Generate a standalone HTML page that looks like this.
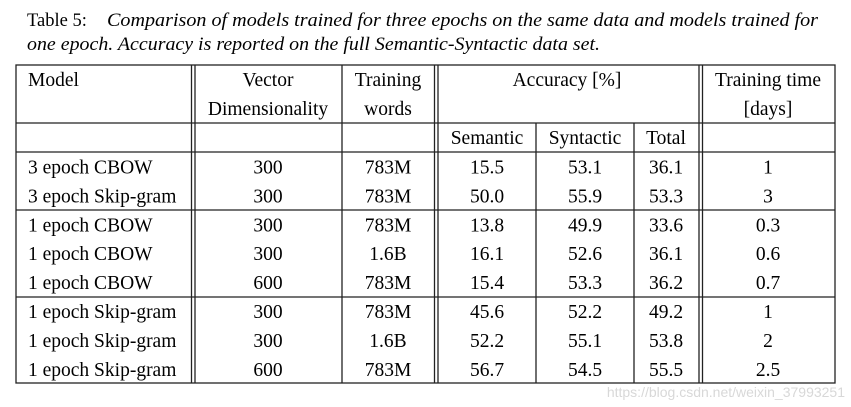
<!DOCTYPE html>
<html><head><meta charset="utf-8"><style>
html,body{margin:0;padding:0;background:#fff;}
svg{display:block;font-family:"Liberation Serif",serif;}
</style></head><body>
<svg width="851" height="407" viewBox="0 0 851 407">
<g font-size="18.5" fill="#000">
<text x="27" y="26">Table 5:</text>
<text x="107" y="26" font-style="italic" textLength="711" lengthAdjust="spacingAndGlyphs">Comparison of models trained for three epochs on the same data and models trained for</text>
<text x="27" y="50" font-style="italic" textLength="573" lengthAdjust="spacingAndGlyphs">one epoch. Accuracy is reported on the full Semantic-Syntactic data set.</text>
</g>
<g stroke="#222" stroke-width="1.3">
<rect x="16" y="65" width="819" height="318" fill="none"/>
<line x1="191.5" y1="65" x2="191.5" y2="383"/><line x1="195" y1="65" x2="195" y2="383"/>
<line x1="342" y1="65" x2="342" y2="383"/>
<line x1="434.5" y1="65" x2="434.5" y2="383"/><line x1="438" y1="65" x2="438" y2="383"/>
<line x1="536" y1="123" x2="536" y2="383"/>
<line x1="634" y1="123" x2="634" y2="383"/>
<line x1="699" y1="65" x2="699" y2="383"/><line x1="702.5" y1="65" x2="702.5" y2="383"/>
<line x1="16" y1="123" x2="835" y2="123"/>
<line x1="16" y1="152" x2="835" y2="152"/>
<line x1="16" y1="210" x2="835" y2="210"/>
<line x1="16" y1="297" x2="835" y2="297"/>
</g>
<g font-size="19.5" fill="#000" text-anchor="middle">
<text x="28" y="86" text-anchor="start">Model</text>
<text x="268" y="86">Vector</text><text x="268" y="115">Dimensionality</text>
<text x="388" y="86">Training</text><text x="388" y="115">words</text>
<text x="567" y="86">Accuracy [%]</text>
<text x="768" y="86">Training time</text><text x="768" y="115">[days]</text>
<text x="487" y="144">Semantic</text><text x="585" y="144">Syntactic</text><text x="666" y="144">Total</text>
</g>
<g id="body" font-size="19.5" fill="#000" text-anchor="middle"></g>
<text x="845" y="397" font-family="Liberation Sans, sans-serif" font-size="14" fill="#d8d8d8" text-anchor="end">https://blog.csdn.net/weixin_37993251</text>
</svg>
<script>
const models=["3 epoch CBOW","3 epoch Skip-gram","1 epoch CBOW","1 epoch CBOW","1 epoch CBOW","1 epoch Skip-gram","1 epoch Skip-gram","1 epoch Skip-gram"];
const dims=["300","300","300","300","600","300","300","600"];
const words=["783M","783M","783M","1.6B","783M","783M","1.6B","783M"];
const semantic=["15.5","50.0","13.8","16.1","15.4","45.6","52.2","56.7"];
const syntactic=["53.1","55.9","49.9","52.6","53.3","52.2","55.1","54.5"];
const total=["36.1","53.3","33.6","36.1","36.2","49.2","53.8","55.5"];
const days=["1","3","0.3","0.6","0.7","1","2","2.5"];
const g=document.getElementById('body');
const ns="http://www.w3.org/2000/svg";
const cols=[[28,'start'],[268],[388],[487],[585],[666],[768]];
for(let i=0;i<models.length;i++){
  const y=173.5+i*28.9;
  const vals=[models[i],dims[i],words[i],semantic[i],syntactic[i],total[i],days[i]];
  vals.forEach((v,j)=>{
    const t=document.createElementNS(ns,'text');
    t.setAttribute('x',cols[j][0]);t.setAttribute('y',y);
    if(cols[j][1])t.setAttribute('text-anchor',cols[j][1]);
    
    
    t.textContent=v;g.appendChild(t);
  });
}
</script>
</body></html>
